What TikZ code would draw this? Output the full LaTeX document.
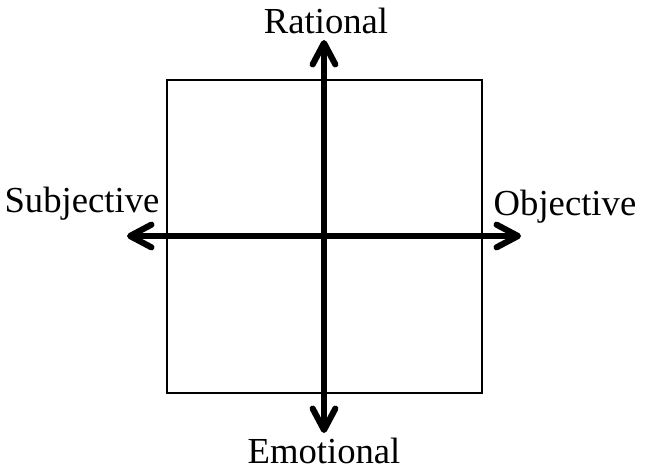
\documentclass[tikz,border=0pt]{standalone}
\usepackage{fontspec}
\setmainfont{Liberation Serif}
\usetikzlibrary{arrows.meta}
\begin{document}
\begin{tikzpicture}[x=0.75pt,y=-0.75pt,
  axis/.style={line width=4.6pt, line cap=round,
    {Straight Barb[length=16pt,width=17pt,line cap=round,line join=round]}-{Straight Barb[length=16pt,width=17pt,line cap=round,line join=round]}},
  lab/.style={font=\fontsize{27.5pt}{30pt}\selectfont, anchor=base, inner sep=0pt}]
\useasboundingbox (0,0) rectangle (656,475);
\draw[line width=1.1pt] (167,80) rectangle (482,393);
\coordinate (top) at (324,40);
\coordinate (bot) at (324,433);
\coordinate (lft) at (127,236);
\coordinate (rgt) at (521,236);
\draw[axis] (bot) -- (top);
\draw[axis] (lft) -- (rgt);
\node[lab] (rat) at (326,33) {Rational};
\node[lab] (emo) at (324,463) {Emotional};
\node[lab] (sub) at (82,212) {Subjective};
\node[lab] (obj) at (565,215) {Objective};
\end{tikzpicture}
\end{document}
